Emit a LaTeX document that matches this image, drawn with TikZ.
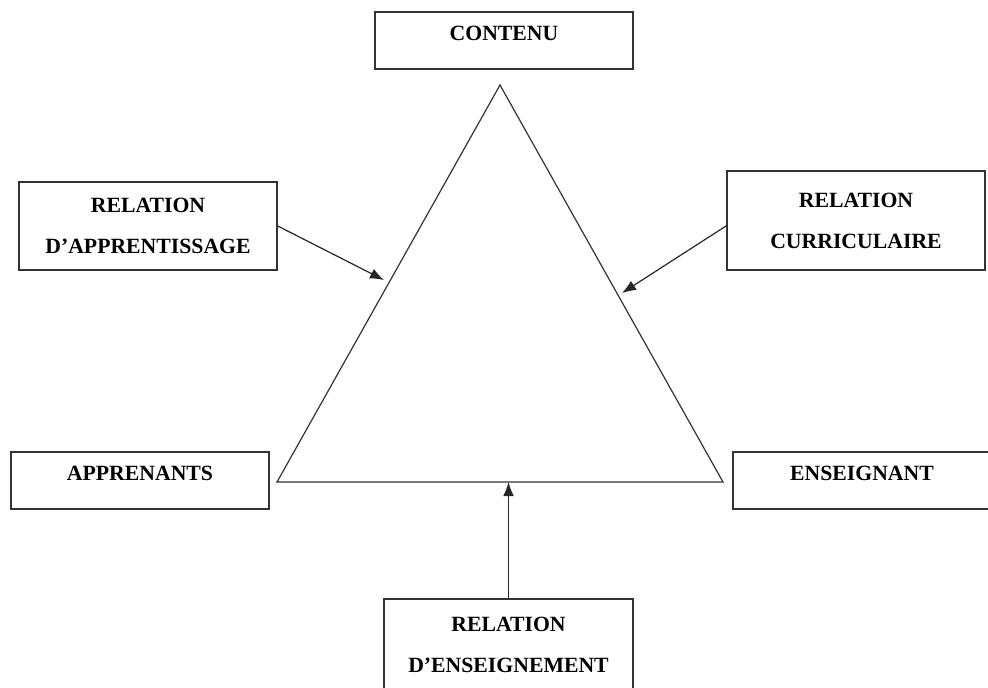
\documentclass[tikz,border=0pt]{standalone}
\usepackage{fontspec}
\setmainfont{Liberation Serif}
\usetikzlibrary{positioning, arrows.meta}
\tikzset{
  boite/.style={draw=black!80, line width=1.1pt, fill=white, minimum width=193.5pt, inner sep=0pt, align=center, font=\bfseries\fontsize{16.3}{30.75}\selectfont},
  unelig/.style={boite, minimum height=42.75pt, text height=11pt, text depth=11pt},
  deuxlig/.style={boite, minimum height=66pt},
  fleche/.style={-{Latex[length=10.5pt,width=8pt]}, line width=0.9pt, black!85}
}
\begin{document}
\begin{tikzpicture}[x=0.75pt, y=-0.75pt]
  \useasboundingbox (0,0) rectangle (988,687);
  % Triangle
  \coordinate (sommet) at (500,85);
  \coordinate (basg) at (277,482);
  \coordinate (basd) at (723,482);
  \draw[line width=0.9pt, black!80] (sommet) -- (basg) -- (basd) -- cycle;

  % Boites
  \node[unelig] (contenu) at (504,40.5) {CONTENU};
  \node[deuxlig] (apprent) at (148,226) {RELATION\\D’APPRENTISSAGE};
  \node[deuxlig, minimum height=74.25pt] (curric) at (856,220.5) {RELATION\\CURRICULAIRE};
  \node[unelig] (apprenants) at (140,480.5) {APPRENANTS};
  \node[unelig] (enseignant) at (862,480.5) {ENSEIGNANT};
  \node[deuxlig, minimum height=69pt, minimum width=186.75pt] (enseign) at (508.5,645) {RELATION\\D’ENSEIGNEMENT};

  % Fleches
  \coordinate (cibleg) at (384,280);
  \coordinate (cibled) at (622,293);
  \draw[fleche] (apprent.east) -- (cibleg);
  \draw[fleche] ([yshift=-4pt]curric.west) -- (cibled);
  \draw[fleche] (enseign.north) -- (enseign.north |- basg);
\end{tikzpicture}
\end{document}
